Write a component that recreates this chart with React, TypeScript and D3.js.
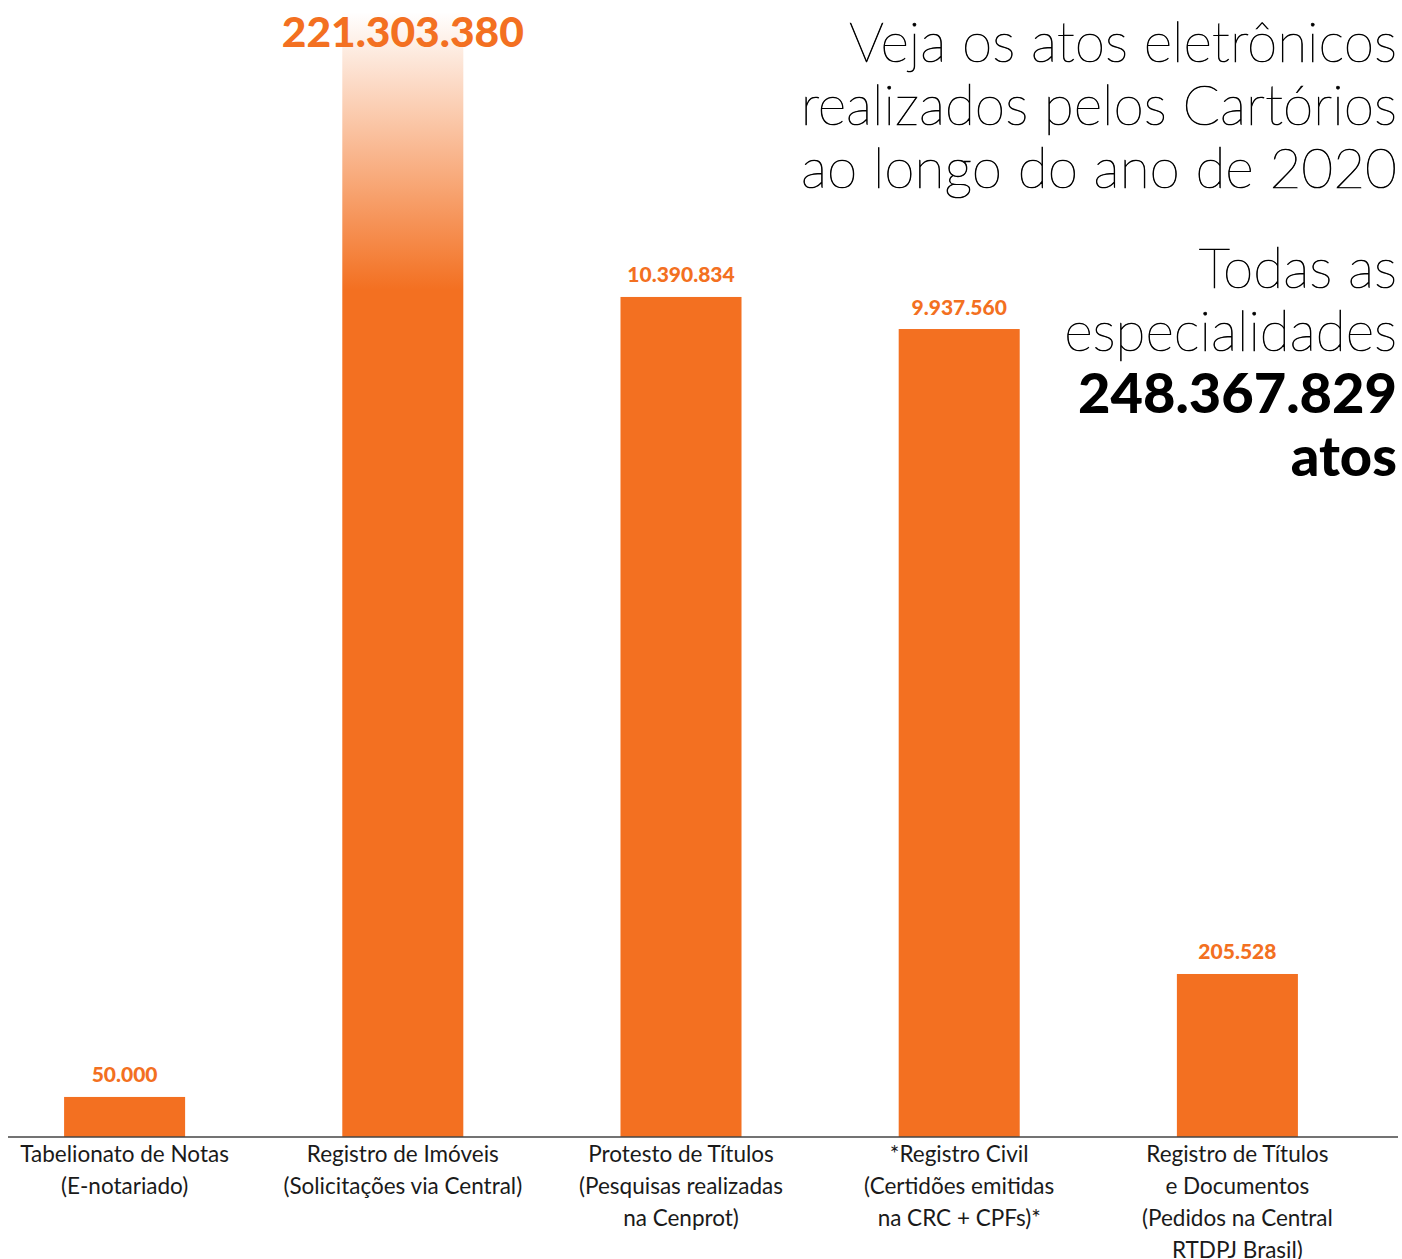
import React from "react";
import * as d3 from "d3";

const categories: string[][] = [
  ["Tabelionato de Notas", "(E-notariado)"],
  ["Registro de Imóveis", "(Solicitações via Central)"],
  ["Protesto de Títulos", "(Pesquisas realizadas", "na Cenprot)"],
  ["*Registro Civil", "(Certidões emitidas", "na CRC + CPFs)*"],
  ["Registro de Títulos", "e Documentos", "(Pedidos na Central", "RTDPJ Brasil)"],
];
const values: number[] = [50000, 221303380, 10390834, 9937560, 205528];
const valueLabels: string[] = ["50.000", "221.303.380", "10.390.834", "9.937.560", "205.528"];
const titleLines: string[] = ["Veja os atos eletrônicos", "realizados pelos Cartórios", "ao longo do ano de 2020"];
const totalLines: string[] = ["Todas as", "especialidades"];
const totalValue = "248.367.829";
const totalUnit = "atos";

const W = 1402;
const H = 1259;
const ORANGE = "#F37021";
const FONT = "Lato, 'Open Sans', sans-serif";

export default function App() {
  const baseY = 1137;
  const topY = 12;
  const plotH = baseY - topY;

  const x = d3
    .scaleBand<number>()
    .domain(d3.range(values.length))
    .range([-14.5, 1376.5])
    .paddingInner(0.565)
    .paddingOuter(0.2825);

  // Broken (non-linear) infographic scale: piecewise linear through d3
  const y = d3
    .scaleLinear()
    .domain([0, 50000, 205528, 9937560, 10390834, 221303380])
    .range([0, 0.0356, 0.1449, 0.7182, 0.7467, 1].map((f) => baseY - f * plotH));

  const maxIdx = values.indexOf(d3.max(values) as number);

  return (
    <svg
      width={W}
      height={H}
      style={{ position: "absolute", left: 0, top: 0, background: "#fff" }}
      fontFamily={FONT}
    >
      <defs>
        <linearGradient id="fade" gradientUnits="userSpaceOnUse" x1={0} x2={0} y1={topY} y2={290}>
          <stop offset="0" stopColor={ORANGE} stopOpacity={0} />
          <stop offset="1" stopColor={ORANGE} stopOpacity={1} />
        </linearGradient>
      </defs>

      {values.map((v, i) => (
        <rect
          key={"b" + i}
          x={x(i)}
          y={y(v)}
          width={x.bandwidth()}
          height={baseY - y(v)}
          fill={i === maxIdx ? "url(#fade)" : ORANGE}
        />
      ))}

      {values.map((v, i) =>
        i === maxIdx ? (
          <text
            key={"l" + i}
            x={(x(i) as number) + x.bandwidth() / 2}
            y={47}
            textAnchor="middle"
            fill={ORANGE}
            fontSize={42.5}
            fontWeight={900}
          >
            {valueLabels[i]}
          </text>
        ) : (
          <text
            key={"l" + i}
            x={(x(i) as number) + x.bandwidth() / 2}
            y={y(v) - 14.5}
            textAnchor="middle"
            fill={ORANGE}
            fontSize={21}
            fontWeight={900}
          >
            {valueLabels[i]}
          </text>
        )
      )}

      <line x1={8} x2={1398} y1={baseY} y2={baseY} stroke="#444" strokeWidth={1.5} />

      {categories.map((lines, i) => (
        <text
          key={"c" + i}
          x={(x(i) as number) + x.bandwidth() / 2}
          textAnchor="middle"
          fill="#1a1a1a"
          fontSize={22.5}
        >
          {lines.map((t, j) => (
            <tspan key={j} x={(x(i) as number) + x.bandwidth() / 2} y={1162 + j * 32}>
              {t}
            </tspan>
          ))}
        </text>
      ))}

      {titleLines.map((t, j) => (
        <text
          key={"t" + j}
          x={1397}
          y={62 + j * 63}
          textAnchor="end"
          fill="#000"
          stroke="#000"
          strokeWidth={0.7}
          fontSize={55}
          fontWeight={100}
        >
          {t}
        </text>
      ))}
      {totalLines.map((t, j) => (
        <text
          key={"s" + j}
          x={1397}
          y={288 + j * 63}
          textAnchor="end"
          fill="#000"
          stroke="#000"
          strokeWidth={0.7}
          fontSize={55}
          fontWeight={100}
        >
          {t}
        </text>
      ))}
      <text x={1397} y={413} textAnchor="end" fill="#000" fontSize={56} fontWeight={900}>
        {totalValue}
      </text>
      <text x={1397} y={476} textAnchor="end" fill="#000" fontSize={56} fontWeight={900}>
        {totalUnit}
      </text>
    </svg>
  );
}
